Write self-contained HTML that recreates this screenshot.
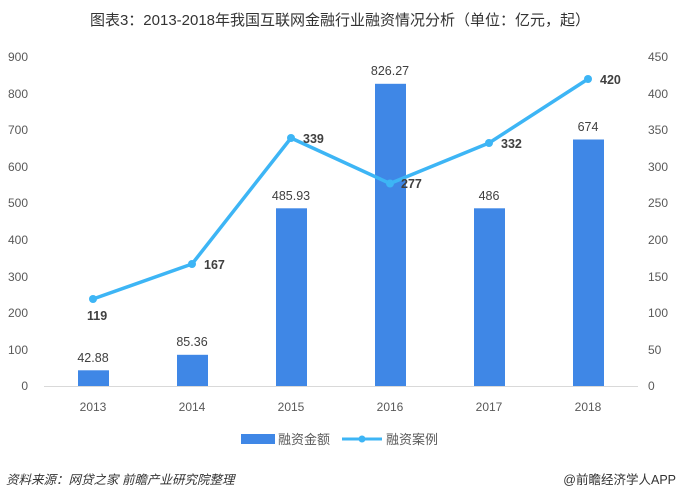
<!DOCTYPE html>
<html><head><meta charset="utf-8"><style>
html,body{margin:0;padding:0;background:#fff;}
svg{display:block;font-family:"Liberation Sans","Noto Sans CJK SC",sans-serif;}
</style></head><body>
<svg width="680" height="498" viewBox="0 0 680 498" xmlns="http://www.w3.org/2000/svg">
<rect width="680" height="498" fill="#fff"/>
<text x="340" y="25" text-anchor="middle" font-size="15" fill="#333">图表3：2013-2018年我国互联网金融行业融资情况分析（单位：亿元，起）</text>
<g font-size="12" fill="#595959">
<text x="28" y="61" text-anchor="end">900</text>
<text x="28" y="98" text-anchor="end">800</text>
<text x="28" y="134" text-anchor="end">700</text>
<text x="28" y="171" text-anchor="end">600</text>
<text x="28" y="207" text-anchor="end">500</text>
<text x="28" y="244" text-anchor="end">400</text>
<text x="28" y="281" text-anchor="end">300</text>
<text x="28" y="317" text-anchor="end">200</text>
<text x="28" y="354" text-anchor="end">100</text>
<text x="28" y="390" text-anchor="end">0</text>
<text x="648" y="61">450</text>
<text x="648" y="98">400</text>
<text x="648" y="134">350</text>
<text x="648" y="171">300</text>
<text x="648" y="207">250</text>
<text x="648" y="244">200</text>
<text x="648" y="281">150</text>
<text x="648" y="317">100</text>
<text x="648" y="354">50</text>
<text x="648" y="390">0</text>
</g>
<line x1="44" y1="386.5" x2="638" y2="386.5" stroke="#d9d9d9" stroke-width="1"/>
<g fill="#3f87e6">
<rect x="78" y="370.3" width="31" height="15.7"/>
<rect x="177" y="354.8" width="31" height="31.2"/>
<rect x="276" y="208.3" width="31" height="177.7"/>
<rect x="375" y="83.8" width="31" height="302.2"/>
<rect x="474" y="208.3" width="31" height="177.7"/>
<rect x="573" y="139.5" width="31" height="246.5"/>
</g>
<g font-size="12.5" fill="#404040" text-anchor="middle">
<text x="93" y="362">42.88</text>
<text x="192" y="346">85.36</text>
<text x="291" y="200">485.93</text>
<text x="390" y="75">826.27</text>
<text x="489" y="200">486</text>
<text x="588" y="131">674</text>
</g>
<polyline points="93,299 192,264 291,138 390,183.5 489,143 588,79" fill="none" stroke="#3db5f5" stroke-width="3.5" stroke-linejoin="round"/>
<g fill="#3db5f5">
<circle cx="93" cy="299" r="4"/><circle cx="192" cy="264" r="4"/><circle cx="291" cy="138" r="4"/>
<circle cx="390" cy="183.5" r="4"/><circle cx="489" cy="143" r="4"/><circle cx="588" cy="79" r="4"/>
</g>
<g font-size="12.5" fill="#404040" font-weight="bold">
<text x="87" y="320">119</text>
<text x="204" y="269">167</text>
<text x="303" y="143">339</text>
<text x="401" y="188">277</text>
<text x="501" y="148">332</text>
<text x="600" y="84">420</text>
</g>
<g font-size="12" fill="#595959" text-anchor="middle">
<text x="93" y="411">2013</text>
<text x="192" y="411">2014</text>
<text x="291" y="411">2015</text>
<text x="390" y="411">2016</text>
<text x="489" y="411">2017</text>
<text x="588" y="411">2018</text>
</g>
<rect x="241" y="434" width="34" height="10" fill="#3f87e6"/>
<text x="278" y="444" font-size="13" fill="#595959">融资金额</text>
<line x1="342" y1="439" x2="382" y2="439" stroke="#3db5f5" stroke-width="3"/>
<circle cx="362" cy="439" r="3.5" fill="#3db5f5"/>
<text x="386" y="444" font-size="13" fill="#595959">融资案例</text>
<text x="6" y="484" font-size="12.5" fill="#333" font-style="italic">资料来源：网贷之家  前瞻产业研究院整理</text>
<text x="676" y="484" font-size="12.5" fill="#333" text-anchor="end">@前瞻经济学人APP</text>
</svg>
</body></html>
